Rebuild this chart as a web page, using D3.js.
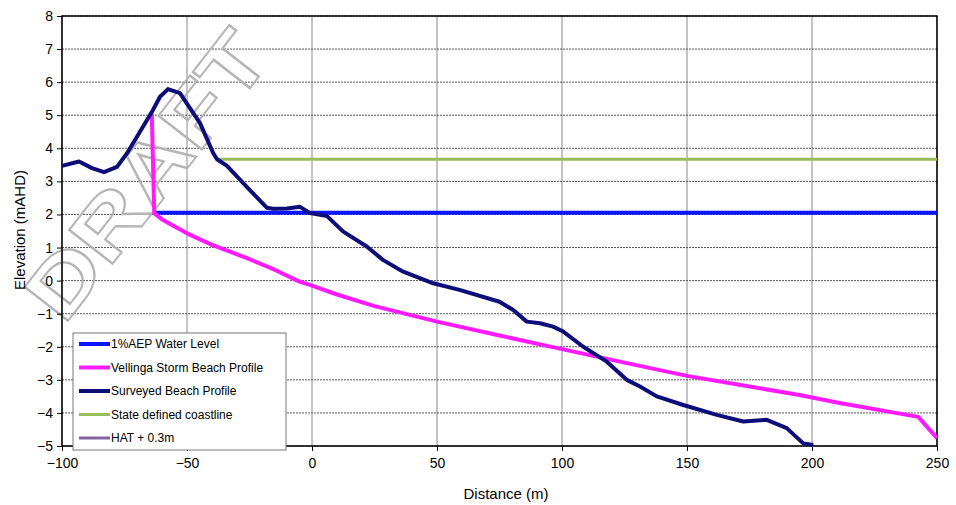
<!DOCTYPE html>
<html>
<head>
<meta charset="utf-8">
<script src="https://cdn.jsdelivr.net/npm/d3@7"></script>
<style>
  body { margin: 0; background: #fff; }
  text { font-family: Arial, "Liberation Sans", sans-serif; }
</style>
</head>
<body>
<div id="graph"></div>
<script>
// Data_____________________________________________________
const xTicks = [-100, -50, 0, 50, 100, 150, 200, 250];
const yTicks = [-5, -4, -3, -2, -1, 0, 1, 2, 3, 4, 5, 6, 7, 8];

const waterLevel = [[-63.1, 2.05], [250, 2.05]];
const coastline = [[-38, 3.67], [250, 3.67]];
const vellinga = [[-64.1, 5.06], [-63.1, 2.04], [-60, 1.85], [-50, 1.43], [-40, 1.08], [-26, 0.68],
    [-15, 0.33], [-5, -0.03], [0, -0.15], [10, -0.42], [25, -0.77], [50, -1.24], [75, -1.66],
    [100, -2.07], [125, -2.48], [150, -2.88], [175, -3.2], [195, -3.46], [211, -3.7],
    [242.5, -4.12], [250, -4.76]];
const surveyed = [[-100, 3.47], [-93.2, 3.6], [-88, 3.4], [-83.2, 3.28], [-78, 3.44], [-74, 3.85],
    [-68.8, 4.5], [-63.6, 5.16], [-60.8, 5.56], [-57.6, 5.79], [-52.8, 5.67], [-50.1, 5.36],
    [-44.8, 4.76], [-39.5, 3.85], [-38, 3.67], [-34, 3.47], [-26, 2.83], [-18, 2.2], [-15.6, 2.17],
    [-10, 2.18], [-4.8, 2.23], [-0.8, 2.04], [6, 1.95], [12.5, 1.48], [21.9, 1.03], [28.5, 0.62],
    [36.5, 0.27], [48.5, -0.08], [59, -0.28], [75, -0.64], [80.5, -0.89], [85.9, -1.24],
    [91.2, -1.29], [96.4, -1.39], [100.5, -1.54], [108.5, -2.0], [117.9, -2.45], [125.9, -3.0],
    [131.2, -3.2], [137.9, -3.5], [148.5, -3.76], [161.9, -4.06], [172.5, -4.26], [181.9, -4.21],
    [189.9, -4.46], [196.5, -4.92], [200.5, -4.97]];

const legendNames = ['1%AEP Water Level', 'Vellinga Storm Beach Profile', 'Surveyed Beach Profile',
    'State defined coastline', 'HAT + 0.3m'];
const legendColors = ['#0a14ff', '#ff1aff', '#0d0d7a', '#9bbb59', '#8064a2'];

// Sizes_____________________________________________________
const width = 956;
const height = 505;
const padL = 62, padR = 937, padT = 16, padB = 446;

const svg = d3.select('#graph')
    .append('svg')
    .attr('width', width)
    .attr('height', height);

const xScale = d3.scaleLinear().domain([-100, 250]).range([padL, padR]);
const yScale = d3.scaleLinear().domain([-5, 8]).range([padB, padT]);

// Grid_____________________________________________________
svg.append('g')
    .selectAll('line')
    .data(xTicks)
    .enter()
    .append('line')
    .attr('x1', d => xScale(d)).attr('x2', d => xScale(d))
    .attr('y1', padT).attr('y2', padB)
    .attr('stroke', '#8a8a8a')
    .attr('stroke-width', 1);

svg.append('g')
    .selectAll('line')
    .data(yTicks)
    .enter()
    .append('line')
    .attr('x1', padL).attr('x2', padR)
    .attr('y1', d => yScale(d)).attr('y2', d => yScale(d))
    .attr('stroke', '#555')
    .attr('stroke-width', 1)
    .attr('stroke-dasharray', '2,1');

// Watermark________________________________________________
svg.append('text')
    .attr('transform', 'translate(64, 326) rotate(-52)')
    .attr('font-size', 80)
    .attr('font-weight', 'bold')
    .attr('fill', 'none')
    .attr('stroke', '#b5b5b5')
    .attr('stroke-width', 2)
    .attr('textLength', 340)
    .attr('lengthAdjust', 'spacingAndGlyphs')
    .text('DRAFT');

// Axes_____________________________________________________
const xAxis = d3.axisBottom(xScale).tickValues(xTicks).tickSize(5).tickSizeOuter(0);
const yAxis = d3.axisLeft(yScale).tickValues(yTicks).tickSize(5).tickSizeOuter(0);

svg.append('g')
    .attr('transform', `translate(0, ${padB})`)
    .call(xAxis)
    .call(g => g.select('.domain').remove())
    .call(g => g.selectAll('text').attr('font-size', 14).attr('fill', '#000').attr('dy', '1em'))
    .call(g => g.selectAll('line').attr('stroke', '#000'));

svg.append('g')
    .attr('transform', `translate(${padL}, 0)`)
    .call(yAxis)
    .call(g => g.select('.domain').remove())
    .call(g => g.selectAll('text').attr('font-size', 14).attr('fill', '#000').attr('x', -9))
    .call(g => g.selectAll('line').attr('stroke', '#000'));

svg.append('rect')
    .attr('x', padL).attr('y', padT)
    .attr('width', padR - padL).attr('height', padB - padT)
    .attr('fill', 'none')
    .attr('stroke', '#000')
    .attr('stroke-width', 1.5);

svg.append('text')
    .attr('x', 506).attr('y', 499)
    .attr('text-anchor', 'middle')
    .attr('font-size', 15)
    .text('Distance (m)');

svg.append('text')
    .attr('transform', 'translate(25, 230) rotate(-90)')
    .attr('text-anchor', 'middle')
    .attr('font-size', 15)
    .text('Elevation (mAHD)');

// Lines____________________________________________________
const line = d3.line().x(d => xScale(d[0])).y(d => yScale(d[1]));

const series = [
    [coastline, legendColors[3], 3],
    [waterLevel, legendColors[0], 4],
    [vellinga, legendColors[1], 4],
    [surveyed, legendColors[2], 4]
];
svg.append('g')
    .selectAll('path')
    .data(series)
    .enter()
    .append('path')
    .attr('d', d => line(d[0]))
    .attr('fill', 'none')
    .attr('stroke', d => d[1])
    .attr('stroke-width', d => d[2])
    .attr('stroke-linejoin', 'round');

// Legend___________________________________________________
const legend = svg.append('g').attr('id', 'legend');
legend.append('rect')
    .attr('x', 73).attr('y', 333)
    .attr('width', 213).attr('height', 117)
    .attr('fill', '#fff')
    .attr('stroke', '#777')
    .attr('stroke-width', 1);

const items = legend.selectAll('g.item')
    .data(legendNames)
    .enter()
    .append('g')
    .attr('class', 'item')
    .attr('transform', (d, i) => `translate(0, ${344 + 23.5 * i})`);
items.append('line')
    .attr('x1', 79).attr('x2', 110)
    .attr('stroke', (d, i) => legendColors[i])
    .attr('stroke-width', (d, i) => i < 3 ? 4 : 3);
items.append('text')
    .attr('x', 111).attr('dy', '0.35em')
    .attr('font-size', 12)
    .text(d => d);
</script>
</body>
</html>
